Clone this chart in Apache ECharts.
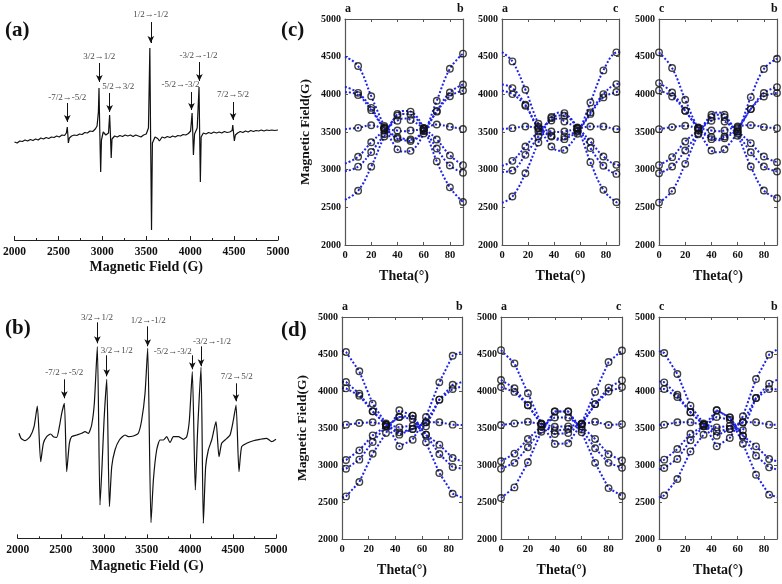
<!DOCTYPE html>
<html><head><meta charset="utf-8">
<script src="https://cdn.jsdelivr.net/npm/echarts@6/dist/echarts.min.js"></script>
<style>html,body{margin:0;padding:0;background:#fff}#c{width:782px;height:584px}</style>
</head><body><div id="c"></div>
<script>
// ---------- (a) spectrum: [field (G), signal (a.u.)] ----------
const spectrumA = [[2000,98],[2030,97],[2060,99],[2090,98.5],[2120,100],[2150,99],[2180,100.5],[2210,99.5],[2240,101],[2270,100],[2300,102],[2330,101],[2360,102.5],[2390,101.5],[2420,103],[2450,102.5],[2480,104],[2510,103],[2540,105],[2570,104.5],[2590,107],[2601,113],[2607,106],[2613,97],[2625,102],[2650,104],[2680,105],[2710,104.5],[2740,106],[2770,105.5],[2800,107.5],[2830,107],[2860,109],[2890,108.5],[2920,111],[2940,114],[2955,128],[2962,152],[2970,113],[2981,68],[2990,100],[3010,108],[3040,105],[3070,107],[3083,125],[3092,106],[3101,82],[3110,101],[3140,104],[3170,103],[3200,104.5],[3230,103.5],[3260,105],[3290,104],[3320,105],[3350,103.5],[3380,105],[3410,104],[3440,103],[3470,105],[3500,106],[3525,112],[3541,192],[3550,100],[3560,10],[3570,97],[3600,103],[3630,101.5],[3650,99],[3680,103],[3710,102],[3740,103.5],[3770,102.5],[3800,104],[3830,103],[3860,104.5],[3890,104],[3920,105.5],[3950,105],[3980,106.5],[4005,109],[4022,127],[4030,106],[4037,85],[4050,106],[4080,112],[4101,153],[4108,106],[4116,58],[4125,103],[4150,107],[4180,106],[4210,107.5],[4240,106.5],[4270,108],[4300,107],[4330,108],[4360,107],[4390,108.5],[4420,107.5],[4450,108],[4478,109.5],[4485,115],[4495,106],[4503,99],[4515,105],[4540,107],[4570,108.5],[4600,107.5],[4630,109],[4660,108],[4690,109.5],[4720,108.5],[4750,109.5],[4780,109],[4810,110],[4840,109],[4870,110],[4900,109.5],[4930,110],[4960,109.5],[5000,110]];
// annotations (a): [text, field, textSignal, arrowTop, arrowTip, textField]
const annA = [
  ['1/2→-1/2', 3552, 225, 218, 197, 3552],
  ['3/2→1/2', 2966, 183, 177, 158, 2966],
  ['5/2→3/2', 3083, 153, 147, 128, 3180],
  ['-7/2→-5/2', 2601, 142, 137, 118, 2601],
  ['-5/2→-3/2', 4015, 155, 148, 130, 3891],
  ['-3/2→-1/2', 4105, 184, 178, 159, 4094],
  ['7/2→5/2', 4488, 145, 138, 120, 4488]
];
// ---------- (b) spectrum ----------
const spectrumB = [[2015,105],[2039,100],[2085,97.6],[2143,101.6],[2190,111.6],[2228,132.3],[2267,76.6],[2298,95],[2337,101.6],[2383,104.3],[2414,101.6],[2453,101],[2484,111.6],[2511,125],[2542,135],[2569,66.6],[2600,95],[2627,101.6],[2685,103.3],[2743,105],[2782,106.6],[2821,105],[2859,113.3],[2890,135],[2925,191.6],[2956,33.3],[2979,71.6],[3003,118.3],[3034,159],[3065,31.6],[3092,71.6],[3130,88.3],[3181,98.3],[3247,103.3],[3285,101.6],[3343,102.3],[3401,105],[3440,118.3],[3479,145],[3510,190],[3548,15.6],[3576,58.3],[3614,88.3],[3653,98.3],[3692,98.3],[3730,101.6],[3769,95.6],[3808,101.6],[3866,101.6],[3924,99],[3963,101.6],[3994,118.3],[4028,166.6],[4063,48.3],[4090,108.3],[4129,171],[4156,15],[4183,71.6],[4214,88.3],[4253,98.3],[4303,116.6],[4338,81.6],[4369,95],[4408,98.3],[4466,103.3],[4505,118.3],[4536,133.3],[4570,66.6],[4601,91.6],[4659,95],[4737,97.6],[4814,99],[4892,100],[4950,96.6],[5000,99]];
const annB = [
  ['-7/2→-5/2', 2542, 166, 159, 140, 2542],
  ['3/2→1/2', 2925, 221, 216, 195, 2921],
  ['3/2→1/2', 3034, 188, 183, 162, 3150],
  ['1/2→-1/2', 3510, 218, 212, 192, 3517],
  ['-5/2→-3/2', 4028, 187, 183, 169, 3800],
  ['-3/2→-1/2', 4129, 197, 192, 172, 4257],
  ['7/2→5/2', 4535, 162, 155, 137, 4543]
];

// ---------- angular dependence: theta (deg) and 7 transition curves ----------
const thetaC1 = [0,10,20,30,40,45,50,60,70,80,90];
const curvesC1 = [
  [4500,4376,3975,3580,3270,3240,3250,3480,3915,4340,4540],
  [4100,4020,3820,3560,3430,3410,3400,3520,3780,4025,4130],
  [4030,3990,3790,3550,3410,3390,3380,3510,3770,3975,4050],
  [3540,3555,3590,3540,3520,3510,3520,3540,3600,3570,3540],
  [3080,3172,3363,3520,3650,3680,3660,3550,3400,3190,3060],
  [2980,3040,3234,3470,3720,3740,3730,3550,3280,3055,2960],
  [2600,2720,3040,3440,3740,3780,3770,3550,3110,2765,2570]
];
const circC1 = [10,20,30,40,50,60,70,80,90];

const thetaC2 = [0,8,18,28,38,45,48,58,68,78,88,90];
const curvesC2 = [
  [4560,4437,4061,3609,3308,3250,3263,3476,3892,4318,4557,4560],
  [4130,4083,3862,3570,3450,3410,3441,3520,3760,4003,4136,4140],
  [4050,4003,3848,3551,3441,3390,3405,3507,3740,3959,4030,4040],
  [3540,3551,3573,3551,3507,3500,3507,3540,3573,3573,3538,3540],
  [3050,3117,3308,3507,3653,3680,3640,3551,3374,3175,3064,3060],
  [2970,2989,3197,3441,3684,3720,3715,3560,3286,3051,2944,2940],
  [2560,2643,2953,3361,3700,3760,3751,3551,3100,2732,2568,2560]
];
const circC2 = [8,18,28,38,48,58,68,78,88];

const thetaC3 = [0,10,20,30,40,45,50,60,70,80,90];
const curvesC3 = [
  [4557,4349,3928,3540,3254,3230,3272,3507,3963,4336,4473],
  [4149,4025,3782,3560,3432,3410,3441,3560,3804,4017,4096],
  [4052,3972,3782,3550,3405,3390,3418,3540,3804,3972,4017],
  [3538,3565,3582,3551,3520,3510,3520,3573,3591,3565,3551],
  [3060,3166,3374,3520,3649,3680,3640,3507,3352,3175,3100],
  [2953,3042,3254,3485,3698,3730,3698,3480,3232,3042,2976],
  [2563,2719,3077,3470,3729,3760,3729,3450,3042,2723,2621]
];
const circC3 = [0,10,20,30,40,50,60,70,80,90];

const thetaD1 = [0,3,13,23,33,43,53,63,73,83,90];
const curvesD1 = [
  [4540,4527,4266,3829,3560,3252,3342,3649,4117,4477,4530],
  [4125,4121,3964,3725,3545,3441,3486,3577,3883,4085,4120],
  [4040,4036,3937,3725,3545,3410,3486,3522,3883,4027,4060],
  [3545,3545,3568,3577,3545,3509,3531,3577,3577,3545,3540],
  [3060,3067,3198,3401,3522,3649,3622,3410,3275,3094,3050],
  [2940,2950,3072,3311,3522,3649,3667,3410,3148,2973,2950],
  [2560,2576,2770,3153,3432,3739,3667,3306,2892,2612,2560]
];
const circD1 = [3,13,23,33,43,53,63,73,83];

const thetaD2 = [0,10,20,30,40,50,60,70,80,90];
const curvesD2 = [
  [4552,4373,3970,3560,3284,3293,3560,3988,4391,4548],
  [4149,4037,3808,3553,3463,3486,3553,3822,4046,4144],
  [4055,3988,3808,3553,3418,3432,3553,3822,3992,4055],
  [3540,3562,3584,3553,3517,3522,3553,3584,3540,3553],
  [3051,3154,3351,3520,3642,3642,3520,3351,3145,3060],
  [2948,3029,3239,3480,3723,3723,3480,3226,3029,2962],
  [2554,2697,3037,3450,3723,3723,3441,3029,2688,2581]
];
const circD2 = [0,10,20,30,40,50,60,70,80,90];

const thetaD3 = [0,4,14,24,34,44,54,64,74,84,90];
const curvesD3 = [
  [4540,4513,4230,3802,3560,3252,3365,3658,4162,4491,4560],
  [4130,4117,3950,3712,3545,3455,3486,3577,3905,4099,4150],
  [4030,4027,3919,3712,3545,3396,3486,3469,3905,4027,4020],
  [3545,3545,3577,3577,3545,3509,3531,3577,3577,3545,3545],
  [3060,3072,3216,3423,3522,3649,3612,3396,3252,3081,3050],
  [2940,2959,3081,3333,3522,3739,3644,3396,3126,2968,2940],
  [2560,2590,2811,3184,3410,3739,3644,3288,2869,2599,2567]
];
const circD3 = [4,14,24,34,44,54,64,74,84];

const axisLabelsTop = [['a','b'],['a','c'],['c','b'],['a','b'],['a','c'],['c','b']];

// ---------- build ----------
const SERIF = '"Liberation Serif","DejaVu Serif",serif';
const BLUE = '#1c22e8';
const FRAME = '#555';
const plain = v => String(v);
const panels = [
  {theta: thetaC1, curves: curvesC1, circ: circC1, smooth: 0.4, left: 345, right: 463, top: 19, bottom: 245, yname: true},
  {theta: thetaC2, curves: curvesC2, circ: circC2, smooth: 0.4, left: 502, right: 619, top: 19, bottom: 245, yname: false},
  {theta: thetaC3, curves: curvesC3, circ: circC3, smooth: 0.4, left: 659, right: 777, top: 19, bottom: 245, yname: false},
  {theta: thetaD1, curves: curvesD1, circ: circD1, smooth: false, left: 342, right: 462, top: 317, bottom: 539, yname: true},
  {theta: thetaD2, curves: curvesD2, circ: circD2, smooth: false, left: 501, right: 622, top: 317, bottom: 539, yname: false},
  {theta: thetaD3, curves: curvesD3, circ: circD3, smooth: false, left: 659, right: 777, top: 317, bottom: 539, yname: false}
];

const grid = [], xAxis = [], yAxis = [], series = [], graphic = [];

function specPanel(data, ann, g) {
  const gi = grid.length;
  grid.push({left: g.left, top: g.top, width: g.width, height: g.height});
  xAxis.push({gridIndex: gi, type: 'value', min: 2000, max: 5000, interval: 500,
    axisLine: {show: true, lineStyle: {color: '#222', width: 1}},
    axisTick: {show: true, inside: true, length: 4, lineStyle: {color: '#222'}},
    minorTick: {show: true, splitNumber: 2, length: 2, lineStyle: {color: '#222'}},
    axisLabel: {color: '#111', fontFamily: SERIF, fontWeight: 'bold', fontSize: 11.5, margin: 6, formatter: plain},
    splitLine: {show: false},
    name: 'Magnetic Field (G)', nameLocation: 'middle', nameGap: g.nameGap,
    nameTextStyle: {color: '#111', fontFamily: SERIF, fontWeight: 'bold', fontSize: 14}});
  const yi = yAxis.length;
  yAxis.push({gridIndex: gi, type: 'value', min: 0, max: g.ymax, show: false, splitLine: {show: false}});
  series.push({type: 'line', xAxisIndex: xAxis.length - 1, yAxisIndex: yi, data: data,
    symbol: 'none', smooth: g.smooth, lineStyle: {color: '#111', width: 1.2}, z: 3,
    markLine: {silent: true, symbol: ['none', 'arrow'], symbolSize: [5, 7],
      lineStyle: {color: '#111', width: 1, type: 'solid'}, label: {show: false},
      data: ann.map(a => [{coord: [a[1], a[3]]}, {coord: [a[1], a[4]]}])}});
  series.push({type: 'scatter', xAxisIndex: xAxis.length - 1, yAxisIndex: yi, symbolSize: 1,
    itemStyle: {color: 'rgba(0,0,0,0)'}, silent: true,
    label: {show: true, position: 'inside', formatter: '{b}', color: '#111', fontFamily: SERIF, fontSize: 9},
    data: ann.map(a => ({name: a[0], value: [a[5], a[2]]}))});
}

specPanel(spectrumA, annA, {left: 13, top: 0, width: 265, height: 240, ymax: 240, nameGap: 20, smooth: false});
specPanel(spectrumB, annB, {left: 17.7, top: 278.3, width: 258.3, height: 260, ymax: 260, nameGap: 21, smooth: 0.2});

panels.forEach((p, k) => {
  const gi = grid.length;
  grid.push({left: p.left, top: p.top, width: p.right - p.left, height: p.bottom - p.top});
  const xb = xAxis.length;
  const common = {gridIndex: gi, type: 'value', min: 0, max: 90, interval: 20, splitLine: {show: false},
    axisLine: {show: true, onZero: false, lineStyle: {color: FRAME, width: 1.2}},
    axisTick: {show: true, inside: true, length: 3, lineStyle: {color: FRAME}}};
  xAxis.push(Object.assign({}, common, {position: 'bottom',
    axisLabel: {color: '#111', fontFamily: SERIF, fontWeight: 'bold', fontSize: 10.5, margin: 5, showMaxLabel: false, formatter: plain},
    name: 'Theta(°)', nameLocation: 'middle', nameGap: 24,
    nameTextStyle: {color: '#111', fontFamily: SERIF, fontWeight: 'bold', fontSize: 14}}));
  xAxis.push(Object.assign({}, common, {position: 'top', axisLabel: {show: false}}));
  const yb = yAxis.length;
  const ycommon = {gridIndex: gi, type: 'value', min: 2000, max: 5000, interval: 500, splitLine: {show: false},
    axisLine: {show: true, onZero: false, lineStyle: {color: FRAME, width: 1.2}},
    axisTick: {show: true, inside: true, length: 3, lineStyle: {color: FRAME}}};
  yAxis.push(Object.assign({}, ycommon, {position: 'left',
    axisLabel: {color: '#111', fontFamily: SERIF, fontWeight: 'bold', fontSize: 10, margin: 4, formatter: plain},
    name: p.yname ? 'Magnetic Field(G)' : '', nameLocation: 'middle', nameGap: 32,
    nameTextStyle: {color: '#111', fontFamily: SERIF, fontWeight: 'bold', fontSize: 13.5}}));
  yAxis.push(Object.assign({}, ycommon, {position: 'right', axisLabel: {show: false}}));
  p.curves.forEach(c => {
    series.push({type: 'line', xAxisIndex: xb, yAxisIndex: yb, symbol: 'none', smooth: p.smooth,
      data: p.theta.map((t, j) => [t, c[j]]), clip: true,
      lineStyle: {color: BLUE, width: 2, type: [2, 2]}, z: 2});
  });
  const pts = [];
  p.circ.forEach(a => {
    const j = p.theta.indexOf(a);
    p.curves.forEach(c => pts.push([a, c[j]]));
  });
  series.push({type: 'scatter', xAxisIndex: xb, yAxisIndex: yb, symbol: 'circle', symbolSize: 6.5,
    itemStyle: {color: 'rgba(255,255,255,0)', borderColor: '#111', borderWidth: 1.4}, data: pts, z: 4, clip: false});
  const lbl = axisLabelsTop[k];
  graphic.push({type: 'text', left: p.left, top: p.top - 16,
    style: {text: lbl[0], font: 'bold 12px ' + SERIF, fill: '#111'}});
  graphic.push({type: 'text', left: p.right - 6, top: p.top - 16,
    style: {text: lbl[1], font: 'bold 12px ' + SERIF, fill: '#111'}});
});

[['(a)', 5, 20], ['(b)', 5, 318], ['(c)', 281, 20], ['(d)', 281, 320]].forEach(l => {
  graphic.push({type: 'text', left: l[1], top: l[2], style: {text: l[0], font: 'bold 21px ' + SERIF, fill: '#111'}});
});

const chart = echarts.init(document.getElementById('c'), null, {renderer: 'canvas'});
chart.setOption({animation: false, backgroundColor: '#fff', grid, xAxis, yAxis, series, graphic});
</script></body></html>
